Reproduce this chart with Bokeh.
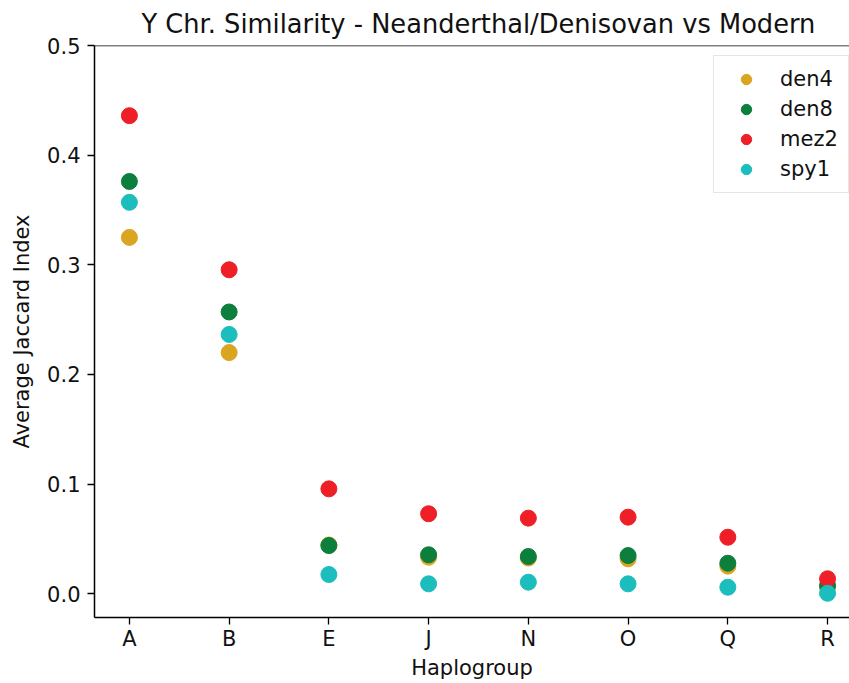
from bokeh.plotting import figure
from bokeh.models import (ColumnDataSource, Range1d, FixedTicker, PrintfTickFormatter,
                          Legend, LegendItem, Span)
from bokeh.embed import file_html
from bokeh.resources import INLINE

haplogroups = ["A", "B", "E", "J", "N", "O", "Q", "R"]
den4 = [0.325, 0.220, 0.0445, 0.0334, 0.0326, 0.0319, 0.0252, 0.0060]
den8 = [0.376, 0.257, 0.0440, 0.0356, 0.0340, 0.0349, 0.0279, 0.0076]
mez2 = [0.436, 0.2955, 0.0957, 0.0730, 0.0690, 0.0699, 0.0516, 0.0137]
spy1 = [0.357, 0.2365, 0.0176, 0.0091, 0.0106, 0.0091, 0.0060, 0.0005]
series_names = ["den4", "den8", "mez2", "spy1"]
series_values = [den4, den8, mez2, spy1]
series_colors = ["#DAA520", "#0B7F3B", "#EE1F26", "#1BBDBD"]
y_ticks = [0.0, 0.1, 0.2, 0.3, 0.4, 0.5]

FONT = "DejaVu Sans"

p = figure(width=849, height=683, output_backend="svg", toolbar_location=None,
           x_range=Range1d(-0.35, 7.22), y_range=Range1d(-0.0216, 0.5),
           min_border_left=94, min_border_right=0, min_border_top=45, min_border_bottom=66)

p.title.text = "Y Chr. Similarity - Neanderthal/Denisovan vs Modern"
p.title.text_font = FONT
p.title.text_font_size = "25.7px"
p.title.text_font_style = "normal"
p.title.align = "left"
p.title.offset = 47
p.title.standoff = 13
p.title.text_color = "#111111"

p.xgrid.visible = False
p.ygrid.visible = False
p.outline_line_color = None
p.background_fill_color = "white"
p.border_fill_color = "white"

x_idx = list(range(len(haplogroups)))
items = []
for name, vals, col in zip(series_names, series_values, series_colors):
    src = ColumnDataSource(dict(x=x_idx, y=vals))
    r = p.scatter("x", "y", source=src, size=16, fill_color=col, line_color=col)
    items.append(LegendItem(label=name, renderers=[r]))

legend = Legend(items=items, location=(619, 424), margin=0,
                label_text_font=FONT, label_text_font_size="21px",
                label_text_color="#111111",
                glyph_height=26, glyph_width=44, label_height=26, spacing=4,
                padding=10, label_standoff=12,
                border_line_color="#cccccc", border_line_width=1,
                background_fill_color="white", background_fill_alpha=0.8)
p.add_layout(legend, "center")

# top spine
p.add_layout(Span(location=0.5, dimension="width", line_color="black", line_width=1.5))

for ax in (p.xaxis[0], p.yaxis[0]):
    ax.axis_line_color = "black"
    ax.axis_line_width = 1.5
    ax.major_tick_line_color = "black"
    ax.major_tick_line_width = 1.3
    ax.major_tick_in = 0
    ax.major_tick_out = 7
    ax.minor_tick_line_color = None
    ax.major_label_text_font = FONT
    ax.major_label_text_font_size = "21px"
    ax.major_label_text_color = "#111111"
    ax.axis_label_text_font = FONT
    ax.axis_label_text_font_size = "21px"
    ax.axis_label_text_font_style = "normal"
    ax.axis_label_text_color = "#111111"

p.xaxis[0].ticker = FixedTicker(ticks=x_idx)
p.xaxis[0].major_label_overrides = {i: h for i, h in zip(x_idx, haplogroups)}
p.xaxis[0].axis_label = "Haplogroup"
p.xaxis[0].major_label_standoff = 2
p.xaxis[0].axis_label_standoff = 2

p.yaxis[0].ticker = FixedTicker(ticks=y_ticks)
p.yaxis[0].formatter = PrintfTickFormatter(format="%.1f")
p.yaxis[0].axis_label = "Average Jaccard Index"
p.yaxis[0].major_label_standoff = 7
p.yaxis[0].axis_label_standoff = 10

open("out.html", "w").write(file_html(p, INLINE))
